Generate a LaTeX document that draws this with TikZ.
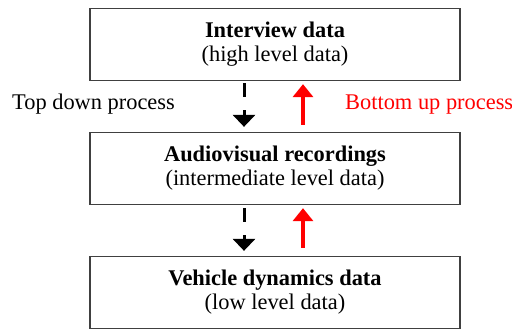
\documentclass[tikz,border=0pt]{standalone}
\usepackage{fontspec}
\setmainfont{Liberation Serif}
\usetikzlibrary{arrows.meta,calc}
\begin{document}
\begin{tikzpicture}[x=1pt,y=-1pt,
 databox/.style={draw=black!75,line width=1.3pt,minimum width=370pt,minimum height=72pt,align=center,font=\fontsize{22.4}{24}\selectfont,inner sep=0pt},
 downarrow/.style={line width=3pt,dash pattern=on 14pt off 13pt,-{Triangle[width=22pt,length=12pt]}},
 uparrow/.style={red,line width=3.5pt,-{Triangle[width=20pt,length=13pt]}},
 lbl/.style={font=\fontsize{22.4}{24}\selectfont,inner sep=0pt}]
\useasboundingbox (0,0) rectangle (512,329);
\fill[white] (0,0) rectangle (512,329);
\node[databox] (b1) at (275,44.5) {\textbf{Interview data}\\(high level data)};
\node[databox] (b2) at (275,168.5) {\textbf{Audiovisual recordings}\\(intermediate level data)};
\node[databox] (b3) at (275,292.5) {\textbf{Vehicle dynamics data}\\(low level data)};
\draw[downarrow] ($(b1.south)+(-31,2)$) -- ($(b2.north)+(-31,-5)$);
\draw[uparrow] ($(b2.north)+(28,-7)$) -- ($(b1.south)+(28,3)$);
\draw[downarrow] ($(b2.south)+(-31,3)$) -- ($(b3.north)+(-31,-5)$);
\draw[uparrow] ($(b3.north)+(28,-8)$) -- ($(b2.south)+(28,3)$);
\node[lbl,anchor=west] (td) at (12,104) {Top down process};
\node[lbl,anchor=west,text=red] (bu) at (345,105) {Bottom up process};
\end{tikzpicture}
\end{document}
